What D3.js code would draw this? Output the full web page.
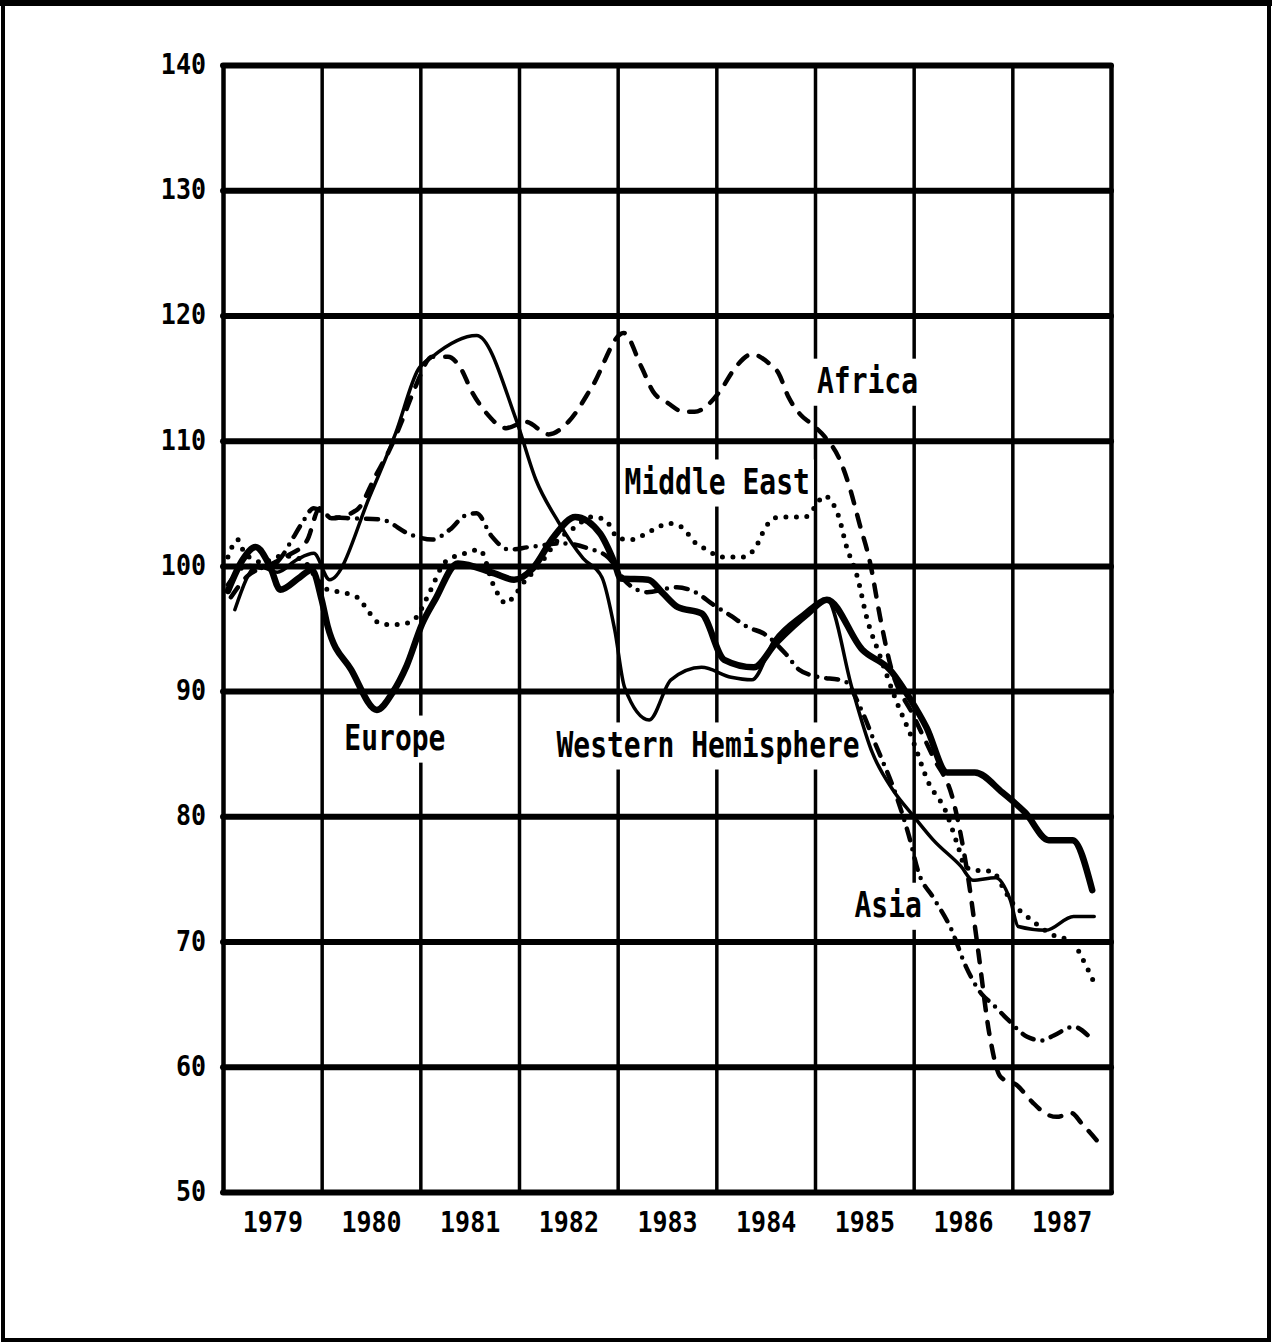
<!DOCTYPE html>
<html>
<head>
<meta charset="utf-8">
<script src="https://cdn.jsdelivr.net/npm/d3@7/dist/d3.min.js"></script>
<style>
  body { margin: 0; background: #fff; }
  svg { display: block; }
  text { font-family: "DejaVu Sans Mono", monospace; font-weight: bold; fill: #000; }
</style>
</head>
<body>
<div id="chart"></div>
<script>
var W = 1272, H = 1343;

// tick labels
var yTicks = [50, 60, 70, 80, 90, 100, 110, 120, 130, 140];
var years = [1979, 1980, 1981, 1982, 1983, 1984, 1985, 1986, 1987];

// series values: [year, index]
var europe = [[1979.05, 98], [1979.2, 100.5], [1979.33, 101.5], [1979.48, 99.9], [1979.58, 98.1], [1979.78, 99.1],
  [1979.9, 99.7], [1980.0, 97.3], [1980.06, 95.2], [1980.3, 91.7], [1980.56, 88.5], [1980.72, 89.9], [1980.86, 92],
  [1981.02, 95.4], [1981.15, 97.3], [1981.38, 100.2], [1981.75, 99.4], [1981.95, 98.9], [1982.14, 99.8], [1982.35, 102.3],
  [1982.57, 103.9], [1982.82, 102.6], [1982.97, 100.2], [1983.03, 99], [1983.31, 98.9], [1983.46, 97.8], [1983.61, 96.7],
  [1983.85, 96.2], [1984.08, 92.5], [1984.38, 91.9], [1984.6, 93.8], [1984.93, 96.2], [1985.12, 97.3], [1985.48, 93.3],
  [1985.76, 91.7], [1985.97, 89.3], [1986.13, 87.1], [1986.34, 83.5], [1986.62, 83.5], [1986.9, 81.9], [1987.13, 80.3],
  [1987.37, 78.1], [1987.61, 78.1], [1987.81, 74.1]];

var westernHemisphere = [[1979.12, 96.5], [1979.35, 100], [1979.55, 99.5], [1979.75, 100.5], [1979.92, 101], [1980.08, 98.9],
  [1980.5, 105.8], [1980.75, 110.6], [1980.98, 115.7], [1981.12, 116.7], [1981.57, 118.4], [1981.97, 111.7], [1982.17, 106.9],
  [1982.4, 103.5], [1982.65, 100.6], [1982.84, 99.1], [1982.97, 94.9], [1983.07, 90.3], [1983.32, 87.7], [1983.54, 90.9],
  [1983.85, 91.9], [1984.15, 91.1], [1984.36, 90.9], [1984.59, 94.1], [1984.85, 96], [1985.12, 97.3], [1985.38, 90.1],
  [1985.58, 85.1], [1985.79, 82.1], [1986.0, 80], [1986.2, 78.1], [1986.48, 76], [1986.6, 74.9], [1986.83, 75.1],
  [1986.98, 73.3], [1987.06, 71.2], [1987.34, 70.9], [1987.62, 72], [1987.83, 72]];

var africa = [[1979.08, 97.5], [1979.25, 99.2], [1979.45, 100], [1979.65, 100.8], [1979.85, 102], [1979.98, 104.6],
  [1980.1, 103.8], [1980.36, 104.5], [1980.54, 107.1], [1980.72, 109.8], [1980.82, 111.7], [1980.95, 114.3], [1981.12, 116.7],
  [1981.28, 116.7], [1981.4, 115.9], [1981.53, 113.8], [1981.67, 112.2], [1981.87, 111], [1982.07, 111.5], [1982.3, 110.5],
  [1982.5, 111.5], [1982.74, 114.3], [1983.06, 118.6], [1983.24, 115.9], [1983.36, 113.9], [1983.51, 113], [1983.67, 112.3],
  [1983.78, 112.3], [1983.92, 112.9], [1984.05, 114.1], [1984.18, 115.7], [1984.36, 116.9], [1984.53, 116.2], [1984.63, 115.4],
  [1984.73, 113.5], [1984.85, 112.1], [1984.97, 111.3], [1985.1, 110.3], [1985.25, 108.5], [1985.35, 106.3], [1985.45, 103.4],
  [1985.56, 100.2], [1985.66, 95.9], [1985.76, 92.2], [1986.0, 88], [1986.2, 84.7], [1986.4, 81.3], [1986.55, 75.2],
  [1986.65, 69.5], [1986.77, 62.5], [1986.88, 59.2], [1987.05, 58.5], [1987.2, 57.2], [1987.35, 56.2], [1987.45, 56],
  [1987.6, 56.3], [1987.7, 55.5], [1987.88, 53.9]];

var asia = [[1979.05, 98.5], [1979.25, 100], [1979.45, 99.8], [1979.6, 100.8], [1979.7, 102.1], [1979.8, 103.4],
  [1979.92, 104.6], [1980.1, 103.9], [1980.3, 103.8], [1980.6, 103.7], [1980.9, 102.5], [1981.12, 102.1], [1981.3, 102.9],
  [1981.45, 104], [1981.57, 104.2], [1981.72, 102.4], [1981.9, 101.3], [1982.1, 101.5], [1982.45, 101.8], [1982.7, 101.4],
  [1982.9, 100.7], [1983.1, 98.6], [1983.3, 97.9], [1983.6, 98.3], [1983.83, 97.7], [1983.95, 97], [1984.15, 96],
  [1984.32, 95.1], [1984.48, 94.6], [1984.7, 93], [1984.84, 91.7], [1985.0, 91.2], [1985.3, 90.8], [1985.47, 88.5],
  [1985.6, 86], [1985.83, 81.5], [1985.95, 78.5], [1986.05, 75.5], [1986.2, 73.5], [1986.38, 71], [1986.53, 68],
  [1986.69, 65.8], [1986.8, 65], [1986.95, 63.8], [1987.15, 62.4], [1987.3, 62.1], [1987.42, 62.5], [1987.62, 63.2],
  [1987.78, 62.4]];

var middleEast = [[1979.05, 100.7], [1979.15, 102.1], [1979.22, 101], [1979.4, 100.3], [1979.6, 100.8], [1979.8, 100.5],
  [1979.95, 99], [1980.06, 98.1], [1980.19, 97.9], [1980.36, 97.5], [1980.49, 96.2], [1980.59, 95.4], [1980.72, 95.3],
  [1980.85, 95.4], [1980.95, 95.8], [1981.1, 98], [1981.25, 100.3], [1981.45, 101], [1981.6, 101.3], [1981.75, 98.3],
  [1981.87, 97], [1981.94, 97.5], [1982.07, 98.9], [1982.17, 99.7], [1982.4, 102.1], [1982.57, 103.1], [1982.73, 103.9],
  [1982.87, 103.7], [1983.01, 102.2], [1983.14, 102.1], [1983.27, 102.5], [1983.41, 103.1], [1983.51, 103.4], [1983.65, 103.1],
  [1983.78, 101.9], [1983.9, 101.3], [1984.06, 100.7], [1984.27, 100.7], [1984.4, 101.5], [1984.5, 103.1], [1984.63, 103.9],
  [1984.75, 103.9], [1984.9, 103.9], [1985.0, 104.7], [1985.09, 105.6], [1985.18, 105], [1985.25, 103.7], [1985.31, 101.8],
  [1985.43, 99.1], [1985.53, 95.7], [1985.65, 93], [1985.82, 89.3], [1985.99, 86.1], [1986.15, 82.7], [1986.32, 80.5],
  [1986.45, 77.6], [1986.52, 76], [1986.62, 75.7], [1986.8, 75.6], [1986.9, 74.4], [1987.0, 73.1], [1987.15, 72],
  [1987.45, 70.4], [1987.6, 70.1], [1987.7, 68.8], [1987.83, 66.7]];

// series labels: [text, year, index at baseline]
var labels = [["Africa", 1985.02, 113.8], ["Middle East", 1983.07, 105.75], ["Europe", 1980.23, 85.3],
  ["Western Hemisphere", 1982.38, 84.75], ["Asia", 1985.4, 71.95]];

var x = d3.scaleLinear().domain([1979, 1988]).range([223, 1111]);
var y = d3.scaleLinear().domain([50, 140]).range([1192, 65]);

var svg = d3.select("#chart").append("svg")
    .attr("width", W)
    .attr("height", H);

// outer frame
svg.append("rect")
    .attr("x", 3).attr("y", 3)
    .attr("width", W - 6).attr("height", H - 6)
    .attr("fill", "none").attr("stroke", "#000").attr("stroke-width", 4);
svg.append("line")
    .attr("x1", 0).attr("x2", W).attr("y1", 3).attr("y2", 3)
    .attr("stroke", "#000").attr("stroke-width", 6);

// vertical grid at year boundaries
svg.append("g")
    .attr("class", "vgrid")
    .attr("transform", "translate(0," + y(50) + ")")
    .call(d3.axisBottom(x).tickValues(d3.range(1979, 1989)).tickSize(-(y(50) - y(140))).tickFormat(""))
    .call(function(g) { g.select(".domain").remove(); })
    .selectAll("line")
    .attr("stroke", "#000")
    .attr("stroke-width", function(d) { return (d == 1979 || d == 1988) ? 4.5 : 3.5; });

// horizontal grid
svg.append("g")
    .attr("class", "hgrid")
    .attr("transform", "translate(" + x(1979) + ",0)")
    .call(d3.axisLeft(y).tickValues(yTicks).tickSize(-(x(1988) - x(1979))).tickFormat(""))
    .call(function(g) { g.select(".domain").remove(); })
    .selectAll("line")
    .attr("stroke", "#000")
    .attr("stroke-width", 6)
    .attr("stroke-linecap", "round");

// y labels
var yAxis = svg.append("g")
    .attr("transform", "translate(" + x(1979) + ",0)")
    .call(d3.axisLeft(y).tickValues(yTicks).tickSize(0).tickPadding(17));
yAxis.select(".domain").remove();
yAxis.selectAll("text")
    .attr("dy", null)
    .attr("font-size", 25)
    .attr("font-family", "DejaVu Sans Mono")
    .attr("transform", "translate(0,8.5) scale(1,1.15)");

// x labels, centred in each year
var xAxis = svg.append("g")
    .attr("transform", "translate(0," + y(50) + ")")
    .call(d3.axisBottom(x).tickValues(years.map(function(d) { return d + 0.5; }))
        .tickSize(0).tickFormat(function(d) { return Math.floor(d); }));
xAxis.select(".domain").remove();
xAxis.selectAll("text")
    .attr("dy", null)
    .attr("y", 0)
    .attr("font-size", 25)
    .attr("font-family", "DejaVu Sans Mono")
    .attr("transform", "translate(0,40) scale(1,1.15)");

// white boxes under the labels break the grid, lines go over them
var knockout = svg.append("g").attr("class", "knockout");

var line = d3.line()
    .x(function(d) { return x(d[0]); })
    .y(function(d) { return y(d[1]); })
    .curve(d3.curveMonotoneX);

var series = [
  {data: africa, width: 4.5, dash: "12 12"},
  {data: middleEast, width: 5, dash: "0 10.5"},
  {data: asia, width: 4.5, dash: "12 9 0 9"},
  {data: westernHemisphere, width: 3.5, dash: null},
  {data: europe, width: 6.5, dash: null}
];

svg.selectAll("path.series")
    .data(series)
    .enter()
    .append("path")
    .attr("class", "series")
    .attr("d", function(d) { return line(d.data); })
    .attr("fill", "none")
    .attr("stroke", "#000")
    .attr("stroke-width", function(d) { return d.width; })
    .attr("stroke-dasharray", function(d) { return d.dash; })
    .attr("stroke-linecap", "round")
    .attr("stroke-linejoin", "round");

var labelPos = function(d) {
  return "translate(" + x(d[1]) + "," + y(d[2]) + ") scale(1,1.24)";
};

svg.selectAll("text.label")
    .data(labels)
    .enter()
    .append("text")
    .attr("class", "label")
    .attr("font-size", 28)
    .attr("transform", labelPos)
    .text(function(d) { return d[0]; })
    .each(function(d) {
      var b = this.getBBox();
      knockout.append("rect")
        .attr("transform", labelPos(d))
        .attr("x", b.x - 4).attr("y", b.y - 2)
        .attr("width", b.width + 8).attr("height", b.height + 6)
        .attr("fill", "#fff");
    });
</script>
</body>
</html>
